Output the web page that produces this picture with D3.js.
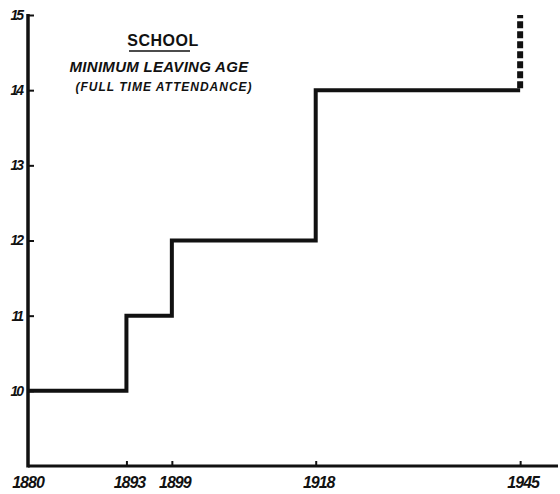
<!DOCTYPE html>
<html>
<head>
<meta charset="utf-8">
<script src="https://cdn.jsdelivr.net/npm/d3@7"></script>
<style>
body { margin: 0; background: #fff; }
text { font-family: "Liberation Sans", Arial, sans-serif; font-weight: bold; fill: #111; }
</style>
</head>
<body>
<svg></svg>
<script>
var width = 560;
var height = 494;

// step points: age holds from this year until the next change
var years = [1880, 1893, 1899, 1918, 1945];
var ages = [10, 11, 12, 14, 14];
var yearTicks = [1880, 1893, 1899, 1918, 1945];
var ageTicks = [10, 11, 12, 13, 14, 15];
var proposedAge = 15;

var xScale = d3.scaleLinear()
                .domain([1880, 1950])
                .range([28, 558]);

var yScale = d3.scaleLinear()
                .domain([9, 15])
                .range([466, 15]);

var svg = d3.select('svg')
    .attr('width', width)
    .attr('height', height);

var data = years.map((y, i) => ({year: y, age: ages[i]}));

// axes
var yAxis = d3.axisRight(yScale)
                .tickValues(ageTicks)
                .tickSize(6)
                .tickSizeOuter(0)
                .tickFormat('');

var xAxis = d3.axisTop(xScale)
                .tickValues(yearTicks.slice(1))
                .tickSize(5)
                .tickSizeOuter(0)
                .tickFormat('');

var gy = svg.append('g')
    .attr('transform', 'translate(' + xScale(1880) + ',0)')
    .call(yAxis);
gy.select('.domain').remove();
gy.selectAll('line').attr('stroke', '#111').attr('stroke-width', 2);

var gx = svg.append('g')
    .attr('transform', 'translate(0,' + yScale(9) + ')')
    .call(xAxis);
gx.select('.domain').remove();
gx.selectAll('line').attr('stroke', '#111').attr('stroke-width', 2);

svg.append('line')
    .attr('x1', xScale(1880)).attr('x2', xScale(1880))
    .attr('y1', yScale(15) - 1).attr('y2', yScale(9) + 1.5)
    .attr('stroke', '#111').attr('stroke-width', 3.5);

svg.append('line')
    .attr('x1', xScale(1880)).attr('x2', xScale(1950))
    .attr('y1', yScale(9)).attr('y2', yScale(9))
    .attr('stroke', '#111').attr('stroke-width', 3);

// tick labels
svg.append('g').selectAll('text')
    .data(ageTicks)
    .enter()
    .append('text')
        .attr('x', 22)
        .attr('y', d => yScale(d))
        .attr('dy', '0.35em')
        .style('text-anchor', 'end')
        .style('font-style', 'italic')
        .style('font-size', '14px')
        .style('letter-spacing', '-2px')
        .text(d => d);

svg.append('g').selectAll('text')
    .data(yearTicks)
    .enter()
    .append('text')
        .attr('x', d => d === 1880 ? 28 : xScale(d) + 3)
        .attr('y', 488)
        .style('text-anchor', 'middle')
        .style('font-style', 'italic')
        .style('font-size', '16px')
        .style('letter-spacing', '-1px')
        .text(d => d);

// the step line
var line = d3.line()
    .x(d => xScale(d.year))
    .y(d => yScale(d.age))
    .curve(d3.curveStepAfter);

svg.append('path')
    .datum(data)
    .attr('d', line)
    .attr('fill', 'none')
    .attr('stroke', '#111')
    .attr('stroke-width', 4);

// 1945 proposed raise to 15, dashed
svg.append('line')
    .attr('x1', xScale(1945)).attr('x2', xScale(1945))
    .attr('y1', yScale(14) - 2).attr('y2', yScale(proposedAge))
    .attr('stroke', '#111')
    .attr('stroke-width', 6)
    .attr('stroke-dasharray', '7,3');

// title block
svg.append('text')
    .attr('x', 163).attr('y', 46)
    .style('text-anchor', 'middle')
    .style('font-size', '16px')
    .style('letter-spacing', '0.5px')
    .text('SCHOOL');

svg.append('line')
    .attr('x1', 129).attr('x2', 190)
    .attr('y1', 51).attr('y2', 51)
    .attr('stroke', '#111').attr('stroke-width', 1.5);

svg.append('text')
    .attr('x', 159).attr('y', 72)
    .style('text-anchor', 'middle')
    .style('font-style', 'italic')
    .style('font-size', '15px')
    .style('letter-spacing', '0.3px')
    .text('MINIMUM  LEAVING AGE');

svg.append('text')
    .attr('x', 164).attr('y', 91)
    .style('text-anchor', 'middle')
    .style('font-style', 'italic')
    .style('font-size', '12px')
    .style('letter-spacing', '1px')
    .text('(FULL TIME ATTENDANCE)');
</script>
</body>
</html>
